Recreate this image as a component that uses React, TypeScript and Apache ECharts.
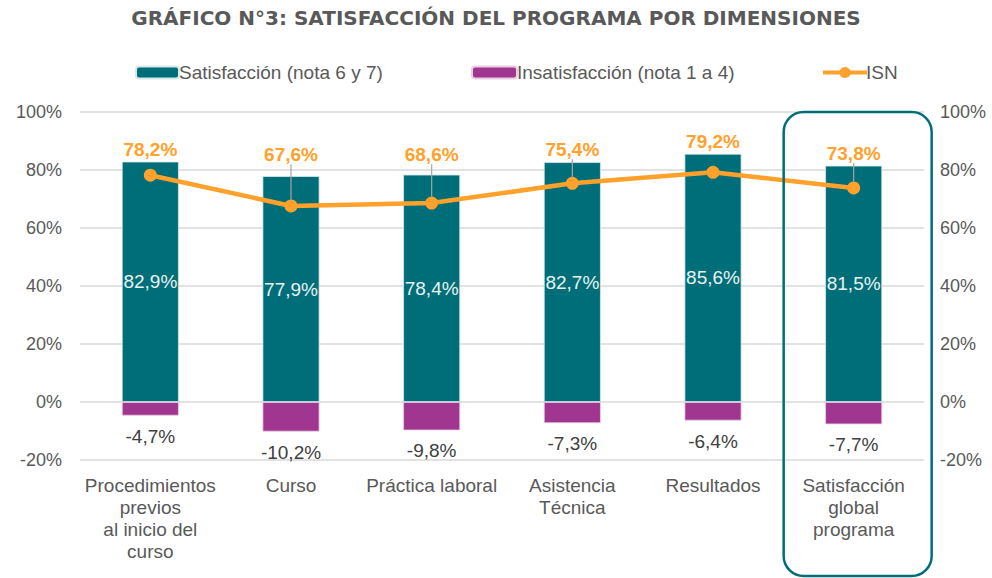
import React, { useEffect, useRef } from "react";
import * as echarts from "echarts";

const categories = [
  "Procedimientos\nprevios\nal inicio del\ncurso",
  "Curso",
  "Práctica laboral",
  "Asistencia\nTécnica",
  "Resultados",
  "Satisfacción\nglobal\nprograma",
];
const satisfaccion = [82.9, 77.9, 78.4, 82.7, 85.6, 81.5];
const insatisfaccion = [-4.7, -10.2, -9.8, -7.3, -6.4, -7.7];
const isn = [78.2, 67.6, 68.6, 75.4, 79.2, 73.8];
const yTicks = { min: -20, max: 100, interval: 20 };

const TEAL = "#006E78";
const PURPLE = "#A0368F";
const ORANGE = "#FFA12B";
const GRAY = "#595959";
const FONT = "Liberation Sans, Arial, sans-serif";

const fmt = (v: number) => v.toFixed(1).replace(".", ",") + "%";

export default function App() {
  const ref = useRef<HTMLDivElement>(null);
  useEffect(() => {
    const chart = echarts.init(ref.current!, null, { renderer: "svg" });
    const yPix = (v: number) => chart.convertToPixel({ yAxisIndex: 0 }, v) as number;
    const option: any = {
      animation: false,
      textStyle: { fontFamily: FONT },
      title: {
        text: "GRÁFICO N°3: SATISFACCIÓN DEL PROGRAMA POR DIMENSIONES",
        left: "center",
        top: 3,
        textStyle: { fontFamily: "DejaVu Sans", fontWeight: "bold", fontSize: 20, color: GRAY },
      },
      legend: [
        {
          data: ["Satisfacción (nota 6 y 7)"],
          left: 130, top: 58, itemWidth: 43, itemHeight: 12, itemGap: 0,
          textStyle: { fontFamily: FONT, fontSize: 19, color: GRAY, padding: [0, 0, 0, -5] },
        },
        {
          data: ["Insatisfacción (nota 1 a 4)"],
          left: 466, top: 58, itemWidth: 45, itemHeight: 12,
          textStyle: { fontFamily: FONT, fontSize: 19, color: GRAY, padding: [0, 0, 0, -5] },
        },
        {
          data: ["ISN"],
          left: 816, top: 58, itemWidth: 44, itemHeight: 14,
          lineStyle: { width: 4, color: ORANGE },
          itemStyle: { color: ORANGE },
          textStyle: { fontFamily: FONT, fontSize: 19, color: GRAY, padding: [0, 0, 0, -6] },
        },
      ],
      grid: { left: 80, right: 68, top: 112, bottom: 118, containLabel: false },
      xAxis: {
        type: "category",
        data: categories,
        axisLine: { show: false, onZero: false },
        axisTick: { show: false },
        axisLabel: {
          color: GRAY, fontFamily: FONT, fontSize: 19, lineHeight: 22, margin: 14, interval: 0,
        },
      },
      yAxis: [
        {
          type: "value", ...yTicks,
          axisLabel: { formatter: "{value}%", color: GRAY, fontFamily: FONT, fontSize: 18, margin: 18 },
          splitLine: { lineStyle: { color: "#D9D9D9", width: 1.5 } },
          axisLine: { show: false }, axisTick: { show: false },
        },
        {
          type: "value", ...yTicks, position: "right",
          axisLabel: { formatter: "{value}%", color: GRAY, fontFamily: FONT, fontSize: 18, margin: 16 },
          splitLine: { show: false },
          axisLine: { show: false }, axisTick: { show: false },
        },
      ],
      series: [
        {
          name: "Satisfacción (nota 6 y 7)",
          type: "bar",
          stack: "s",
          barWidth: 57,
          data: satisfaccion,
          itemStyle: { color: TEAL, borderColor: "#D8E8E8", borderWidth: 0.8 },
          label: {
            show: true, position: "inside", color: "#E8F2F2", fontFamily: FONT, fontSize: 19,
            formatter: (p: any) => fmt(p.value),
          },
        },
        {
          name: "Insatisfacción (nota 1 a 4)",
          type: "bar",
          stack: "s",
          barWidth: 57,
          data: insatisfaccion,
          itemStyle: { color: PURPLE, borderColor: "#E8D0E4", borderWidth: 0.8 },
          label: {
            show: true, position: "bottom", distance: 11, color: "#404040", fontFamily: FONT, fontSize: 19,
            formatter: (p: any) => fmt(p.value),
          },
        },
        {
          name: "ISN",
          type: "line",
          data: isn.map((v, i) => ({
            value: v,
            labelLine: { show: i !== 0 && i !== 4 },
          })),
          symbol: "circle",
          symbolSize: 13,
          lineStyle: { color: ORANGE, width: 4.5 },
          itemStyle: { color: ORANGE },
          label: {
            show: true, position: "top", color: ORANGE, fontFamily: FONT, fontWeight: "bold", fontSize: 19,
            formatter: (p: any) => fmt(p.value),
          },
          labelLine: { show: true, lineStyle: { color: "#A6A6A6", width: 1.2 } },
          labelLayout: (params: any) => {
            const i = params.dataIndex;
            const barTop = yPix(satisfaccion[i]);
            const y = Math.min(barTop - 3, yPix(82));
            return {
              x: params.rect.x + params.rect.width / 2,
              y,
              align: "center",
              verticalAlign: "bottom",
            };
          },
          z: 5,
        },
      ],
    };
    chart.setOption(option);
    const last = categories.length - 1;
    const cx = chart.convertToPixel({ xAxisIndex: 0 }, last) as number;
    const top = yPix(yTicks.max);
    chart.setOption({
      graphic: [
        {
          type: "rect",
          shape: { x: cx - 70, y: top, width: 148, height: 576 - top, r: 20 },
          style: { fill: "none", stroke: TEAL, lineWidth: 2.5 },
          z: 10,
        },
      ],
    });
    return () => chart.dispose();
  }, []);
  return (
    <div
      ref={ref}
      style={{ position: "fixed", left: 0, top: 0, width: 992, height: 578, background: "#fff" }}
    />
  );
}
